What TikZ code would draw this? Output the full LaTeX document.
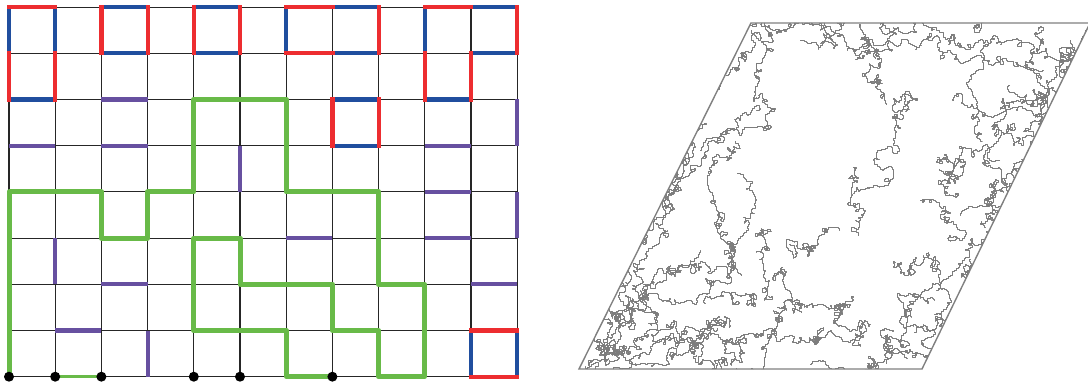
\documentclass[tikz,border=0pt]{standalone}
\usepackage{xcolor}
\definecolor{lpred}{RGB}{237,45,48}
\definecolor{lpblue}{RGB}{32,78,158}
\definecolor{lppurple}{RGB}{103,80,160}
\definecolor{lpgreen}{RGB}{104,186,72}
\definecolor{lphull}{RGB}{125,125,125}
\tikzset{
  lgrid/.style={draw=black!85, line width=1.1pt},
  redge/.style={draw=lpred, line width=4.2pt, line cap=rect},
  bedge/.style={draw=lpblue, line width=4.2pt, line cap=rect},
  pedge/.style={draw=lppurple, line width=4.2pt},
  gpath/.style={draw=lpgreen, line width=5pt, line join=round, line cap=round},
  hull/.style={draw=lphull, line width=0.5pt, line join=round},
  pbox/.style={draw=black!50, line width=1.4pt}
}
% one random hull strand from (#1,#2) towards (#3,#4)
\newcommand{\strand}[4]{%
  \pgfmathsetmacro{\sdx}{#3-#1}%
  \pgfmathsetmacro{\sdy}{#4-#2}%
  \pgfmathtruncatemacro{\sn}{max(2,veclen(\sdx,\sdy)/0.5)}%
  \pgfmathsetmacro{\sa}{180*rand}%
  \draw[hull] (#1,#2) \foreach \k [remember=\ha as \hb (initially \sa), remember=\wa as \wb (initially 0),
      evaluate=\k as \wa using {0.85*\wb+35*rand}, evaluate=\k as \ha using {\hb+\wa+40*rand}] in {1,...,\sn}
    { -- ++({\sdx/\sn+1.4*cos(\ha)+0.9*rand},0) -- ++(0,{\sdy/\sn+1.4*sin(\ha)+0.9*rand}) };%
}

\begin{document}
\begin{tikzpicture}[x=1pt, y=-1pt]
    \useasboundingbox (0,0) rectangle (1088,385);
    % lattice with loops and the green path
    \begin{scope}[shift={(9,376.7)}, x=46.2pt, y=46.2pt]
      \foreach \i in {0,...,11} \draw[lgrid] (\i,0) -- (\i,8);
      \foreach \j in {0,...,8} \draw[lgrid] (0,\j) -- (11,\j);
      % single edges
      \foreach \a/\b/\c/\d in {2/6/3/6, 0/5/1/5, 2/5/3/5, 5/4/5/5, 11/5/11/6, 9/5/10/5, 9/4/10/4, 11/3/11/4,
        6/3/7/3, 9/3/10/3, 10/2/11/2, 1/2/1/3, 2/2/3/2, 1/1/2/1, 3/0/3/1}
        \draw[pedge] (\a,\b) -- (\c,\d);
      % loops, blue then red
      \foreach \a/\b/\c/\d in {0/7/0/8, 1/7/1/8, 0/6/1/6, 2/8/3/8, 2/7/3/7, 4/8/5/8, 4/7/5/7,
        7/8/8/8, 7/7/8/7, 6/7/6/8, 10/8/11/8, 10/7/11/7, 9/6/10/6, 9/7/9/8,
        7/6/8/6, 7/5/8/5, 10/0/10/1, 11/0/11/1}
        \draw[bedge] (\a,\b) -- (\c,\d);
      \foreach \a/\b/\c/\d in {0/8/1/8, 1/6/1/7, 0/6/0/7, 2/7/2/8, 3/7/3/8, 4/7/4/8, 5/7/5/8,
        6/8/7/8, 8/7/8/8, 6/7/7/7, 9/8/10/8, 11/7/11/8, 10/6/10/7, 9/6/9/7,
        7/5/7/6, 8/5/8/6, 10/1/11/1, 10/0/11/0}
        \draw[redge] (\a,\b) -- (\c,\d);
      % path
      \draw[gpath, line width=3.5pt] (1,0) -- (2,0);
      \draw[gpath] (0,0) -- (0,4) -- (2,4) -- (2,3) -- (3,3) -- (3,4) -- (4,4) -- (4,6) -- (6,6)
        -- (6,4) -- (8,4) -- (8,2) -- (9,2) -- (9,0) -- (8,0) -- (8,1) -- (7,1) -- (7,2)
        -- (5,2) -- (5,3) -- (4,3) -- (4,1) -- (6,1) -- (6,0) -- (7,0);
      \foreach \i in {0,1,2,4,5,7} \fill (\i,0) circle (5pt);
    \end{scope}
    % random hulls in the rhombus
    \pgfmathsetseed{11}
    \begin{scope}
      \clip (579,369) -- (922,369) -- (1090,23) -- (751,23) -- cycle;
      \foreach \xa/\ya/\xb/\yb in {
        590/362/668/200, 668/200/752/30, 600/350/700/150, 700/150/760/40, 595/340/740/40,
        585/366/700/364, 700/364/810/364, 810/364/918/365, 620/350/900/350, 600/340/780/345,
        752/26/860/26, 860/26/980/27, 980/27/1085/27, 800/40/1050/40,
        1085/30/1005/200, 1005/200/920/366, 1070/40/990/250, 1060/60/960/340,
        880/24/893/117, 893/117/853/167, 853/167/840/230, 840/230/783/267,
        783/267/787/310, 787/310/772/367,
        893/117/953/100, 953/100/1003/100, 1003/100/1045/80, 1003/100/1000/160,
        663/207/737/173, 737/173/760/230, 760/230/750/300, 750/300/743/367,
        620/317/720/317, 720/317/750/300,
        777/307/843/310, 843/310/847/367,
        937/157/920/200, 920/200/935/260, 935/260/865/273, 935/260/935/300, 935/300/913/367,
        1000/160/953/167, 953/167/960/215, 960/215/985/220,
        985/45/1010/85, 1010/85/1045/100, 1040/27/1060/90,
        827/27/847/50, 847/50/865/62, 752/30/758/78, 890/330/895/367,
        1040/100/1080/40, 1000/130/1060/150, 700/250/650/300, 640/290/700/270, 1000/250/960/280}
        \strand{\xa}{\ya}{\xb}{\yb};
    \end{scope}
    \draw[pbox] (579,369) -- (922,369) -- (1090,23) -- (751,23) -- cycle;
  \end{tikzpicture}
\end{document}
